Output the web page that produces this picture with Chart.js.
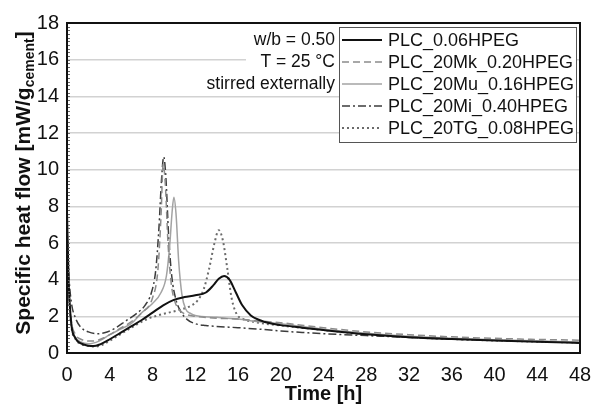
<!DOCTYPE html>
<html>
<head>
<meta charset="utf-8">
<script src="https://cdn.jsdelivr.net/npm/chart.js@4/dist/chart.umd.min.js"></script>
<style>
html, body { margin: 0; padding: 0; background: #fff; }
</style>
</head>
<body>
<canvas id="heat" width="593" height="407"></canvas>
<script>
// series labels (legend order)
const seriesNames = ['PLC_0.06HPEG', 'PLC_20Mk_0.20HPEG', 'PLC_20Mu_0.16HPEG', 'PLC_20Mi_0.40HPEG', 'PLC_20TG_0.08HPEG'];
const notes = ['w/b = 0.50', 'T = 25 °C', 'stirred externally'];
const xTicks = [0, 4, 8, 12, 16, 20, 24, 28, 32, 36, 40, 44, 48];
const yTicks = [0, 2, 4, 6, 8, 10, 12, 14, 16, 18];

// PLC_0.06HPEG
const tPlc = [0, 0.15, 0.4, 0.8, 1.3, 2, 2.5, 3, 4, 5, 6, 7, 8, 9, 10, 11, 12, 13, 13.7, 14.2, 14.7, 15.2, 15.8, 16.4, 17.2, 18, 19, 20, 22, 24, 28, 32, 36, 40, 44, 48];
const qPlc = [7.7, 4.0, 1.6, 0.8, 0.52, 0.4, 0.38, 0.45, 0.75, 1.1, 1.45, 1.8, 2.2, 2.6, 2.9, 3.05, 3.15, 3.3, 3.7, 4.05, 4.2, 4.0, 3.3, 2.6, 2.05, 1.8, 1.62, 1.52, 1.38, 1.25, 1.02, 0.86, 0.76, 0.68, 0.61, 0.55];

// PLC_20Mk_0.20HPEG
const tMk = [0, 0.15, 0.4, 0.8, 1.3, 2.3, 3, 4, 5, 6, 7, 8, 8.5, 8.8, 9.0, 9.2, 9.45, 9.75, 10.1, 10.6, 11.2, 12, 14, 16, 18, 20, 24, 28, 32, 36, 40, 44, 48];
const qMk = [6.8, 3.8, 1.8, 1.0, 0.75, 0.65, 0.72, 1.0, 1.35, 1.7, 2.2, 3.0, 4.5, 7.5, 10.3, 9.2, 6.0, 3.8, 2.8, 2.3, 2.1, 2.0, 1.9, 1.85, 1.75, 1.65, 1.38, 1.15, 1.0, 0.88, 0.8, 0.74, 0.7];

// PLC_20Mu_0.16HPEG
const tMu = [0, 0.15, 0.4, 0.8, 1.3, 2, 3, 4, 5, 6, 7, 8, 8.8, 9.3, 9.6, 9.85, 10.0, 10.2, 10.45, 10.75, 11.1, 11.6, 12, 14, 16, 18, 20, 24, 28, 32, 36, 40, 44, 48];
const qMu = [6.2, 3.5, 1.6, 0.85, 0.6, 0.5, 0.65, 1.0, 1.3, 1.6, 2.2, 2.7, 3.3, 4.2, 5.8, 7.8, 8.5, 7.6, 5.0, 3.2, 2.4, 2.15, 2.05, 1.95, 1.85, 1.7, 1.6, 1.3, 1.08, 0.92, 0.8, 0.72, 0.66, 0.6];

// PLC_20Mi_0.40HPEG
const tMi = [0, 0.15, 0.4, 0.8, 1.3, 2, 2.8, 3.5, 4.5, 5.5, 6.5, 7.3, 7.9, 8.3, 8.6, 8.85, 9.05, 9.25, 9.5, 9.8, 10.2, 10.6, 11.2, 12, 13, 14, 16, 18, 20, 22, 24, 28, 32, 36, 40, 44, 48];
const qMi = [7.0, 4.5, 2.8, 1.9, 1.4, 1.15, 1.05, 1.1, 1.35, 1.75, 2.15, 2.6, 3.3, 4.5, 6.8, 9.5, 10.7, 9.6, 6.5, 4.2, 2.9, 2.3, 1.85, 1.6, 1.5, 1.45, 1.38, 1.3, 1.2, 1.12, 1.05, 0.95, 0.85, 0.76, 0.69, 0.63, 0.58];

// PLC_20TG_0.08HPEG
const tTg = [0, 0.15, 0.4, 0.8, 1.3, 2, 2.7, 3.5, 4.5, 5.5, 6.5, 7.5, 8.5, 9.5, 10.5, 11.5, 12.2, 12.8, 13.3, 13.8, 14.2, 14.6, 15, 15.4, 15.9, 16.5, 17.5, 18.5, 20, 22, 24, 28, 32, 36, 40, 44, 48];
const qTg = [6.5, 3.5, 1.5, 0.75, 0.5, 0.38, 0.35, 0.5, 0.85, 1.2, 1.55, 1.85, 2.05, 2.2, 2.35, 2.55, 2.85, 3.5, 4.6, 6.0, 6.7, 6.1, 4.6, 3.0, 2.1, 1.85, 1.7, 1.6, 1.5, 1.37, 1.25, 1.02, 0.86, 0.76, 0.68, 0.62, 0.57];

const FONT = '"Liberation Sans", Arial, sans-serif';

function pts(t, q) {
    return t.map((v, i) => ({ x: v, y: q[i] }));
}

const styles = [
    { color: '#111111', width: 2, dash: [] },
    { color: '#8c8c8c', width: 1.5, dash: [7, 4] },
    { color: '#a3a3a3', width: 1.5, dash: [] },
    { color: '#3c3c3c', width: 1.5, dash: [8, 3, 2, 3] },
    { color: '#6a6a6a', width: 2, dash: [2, 3] }
];

const allData = [pts(tPlc, qPlc), pts(tMk, qMk), pts(tMu, qMu), pts(tMi, qMi), pts(tTg, qTg)];

const datasets = seriesNames.map((name, i) => ({
    label: name,
    data: allData[i],
    borderColor: styles[i].color,
    borderWidth: styles[i].width,
    borderDash: styles[i].dash,
    pointRadius: 0,
    fill: false,
    cubicInterpolationMode: 'monotone'
}));

// frame, legend, notes and axis titles drawn by hand
const decorations = {
    id: 'decorations',
    afterDraw(chart) {
        const ctx = chart.ctx;
        const a = chart.chartArea;
        const ys = chart.scales.y;

        ctx.save();

        // minor ticks inside left axis
        ctx.strokeStyle = '#666';
        ctx.lineWidth = 1;
        for (let v = 0; v <= 18.001; v += 0.2) {
            const py = Math.round(ys.getPixelForValue(v)) + 0.5;
            ctx.beginPath();
            ctx.moveTo(a.left, py);
            ctx.lineTo(a.left + 3, py);
            ctx.stroke();
        }

        // notes box
        ctx.fillStyle = '#fff';
        ctx.fillRect(246, 28, 93, 66);
        ctx.fillStyle = '#111';
        ctx.font = '17.5px ' + FONT;
        ctx.textAlign = 'right';
        ctx.textBaseline = 'middle';
        notes.forEach((s, i) => ctx.fillText(s, 335, 40 + i * 22));

        // legend box
        ctx.fillStyle = '#fff';
        ctx.fillRect(339, 27, 238, 116);
        ctx.strokeStyle = '#555';
        ctx.lineWidth = 1;
        ctx.strokeRect(339.5, 27.5, 237, 115);
        ctx.textAlign = 'left';
        ctx.font = '18px ' + FONT;
        seriesNames.forEach((name, i) => {
            const cy = 40 + i * 22;
            ctx.beginPath();
            ctx.setLineDash(styles[i].dash);
            ctx.strokeStyle = styles[i].color;
            ctx.lineWidth = styles[i].width;
            ctx.moveTo(342, cy);
            ctx.lineTo(382, cy);
            ctx.stroke();
            ctx.setLineDash([]);
            ctx.fillStyle = '#111';
            ctx.fillText(name, 388, cy + 1);
        });

        // plot frame
        ctx.strokeStyle = '#111';
        ctx.lineWidth = 2;
        ctx.strokeRect(a.left, a.top, a.right - a.left, a.bottom - a.top);

        // x title
        ctx.fillStyle = '#111';
        ctx.font = 'bold 20px ' + FONT;
        ctx.textAlign = 'center';
        ctx.textBaseline = 'middle';
        ctx.fillText('Time [h]', (a.left + a.right) / 2, 394);

        // y title with subscript
        const main = 'Specific heat flow [mW/g';
        const sub = 'cement';
        const close = ']';
        ctx.font = 'bold 21px ' + FONT;
        const w1 = ctx.measureText(main).width;
        const w3 = ctx.measureText(close).width;
        ctx.font = 'bold 14px ' + FONT;
        const w2 = ctx.measureText(sub).width;
        const total = w1 + w2 + w3;
        ctx.translate(23, 183);
        ctx.rotate(-Math.PI / 2);
        ctx.textAlign = 'left';
        ctx.textBaseline = 'alphabetic';
        let x0 = -total / 2;
        ctx.font = 'bold 21px ' + FONT;
        ctx.fillText(main, x0, 7);
        ctx.font = 'bold 14px ' + FONT;
        ctx.fillText(sub, x0 + w1, 11);
        ctx.font = 'bold 21px ' + FONT;
        ctx.fillText(close, x0 + w1 + w2, 7);

        ctx.restore();
    }
};

const chart = new Chart(document.getElementById('heat').getContext('2d'), {
    type: 'line',
    data: { datasets: datasets },
    options: {
        responsive: false,
        animation: false,
        devicePixelRatio: 1,
        layout: { padding: { top: 23, right: 13, left: 0, bottom: 0 } },
        plugins: {
            legend: { display: false },
            tooltip: { enabled: false }
        },
        scales: {
            x: {
                type: 'linear',
                min: 0,
                max: 48,
                afterBuildTicks: s => { s.ticks = xTicks.map(v => ({ value: v })); },
                afterFit: s => { s.height = 54; s.paddingLeft = 0; s.paddingRight = 0; },
                ticks: { color: '#111', font: { size: 20, family: FONT }, padding: 10, maxRotation: 0 },
                grid: { display: false, tickLength: 0 },
                border: { display: false }
            },
            y: {
                min: 0,
                max: 18,
                afterBuildTicks: s => { s.ticks = yTicks.map(v => ({ value: v })); },
                afterFit: s => { s.width = 67; s.paddingTop = 0; s.paddingBottom = 0; },
                ticks: { color: '#111', font: { size: 20, family: FONT }, padding: 8 },
                grid: { color: '#d2d2d2', lineWidth: 1.5, drawTicks: false, tickLength: 0 },
                border: { display: false }
            }
        }
    },
    plugins: [decorations]
});
</script>
</body>
</html>
